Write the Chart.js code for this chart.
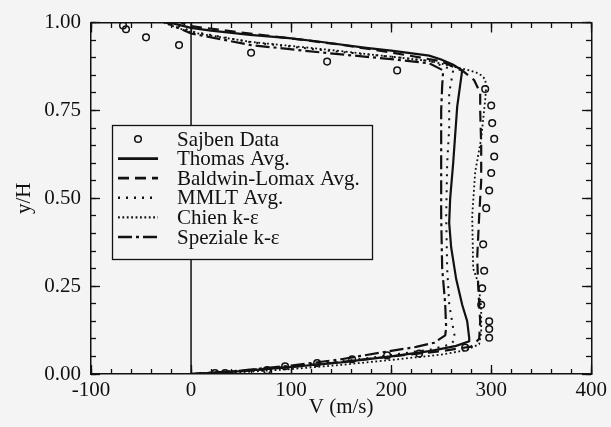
<!DOCTYPE html>
<html>
<head>
<meta charset="utf-8">
<script src="https://cdn.jsdelivr.net/npm/chart.js@4.4.0/dist/chart.umd.min.js"></script>
<style>
  html, body { margin: 0; padding: 0; background: #f4f4f4; }
  canvas { display: block; }
</style>
</head>
<body>
<canvas id="profileChart" width="611" height="427"></canvas>
<script>
// --- data: V (m/s) against y/H ---
const xTicks = [-100, 0, 100, 200, 300, 400];
const yTicks = [0, 0.25, 0.5, 0.75, 1];

const sajbenV = [-68, -65, -45, -12, 60, 136, 206,
  294, 300, 301, 303, 303, 300, 298, 295, 292, 293, 291, 290, 298, 298, 298,
  274, 228, 196, 161, 126, 94, 76, 34, 24];
const sajbenY = [0.992, 0.981, 0.958, 0.936, 0.914, 0.889, 0.864,
  0.811, 0.764, 0.714, 0.669, 0.619, 0.572, 0.522, 0.472, 0.369, 0.294, 0.244, 0.197, 0.150, 0.128, 0.103,
  0.075, 0.058, 0.053, 0.042, 0.031, 0.022, 0.011, 0.003, 0.003];

const thomasV = [0, 50, 100, 150, 200, 240, 265, 278, 278, 276, 271, 265, 260, 258, 259, 262, 266, 271,
  262, 250, 238, 200, 175, 125, 98, 59, 20, 0, -21];
const thomasY = [0, 0.008, 0.02, 0.033, 0.05, 0.066, 0.08, 0.093, 0.103, 0.15, 0.197, 0.27, 0.36, 0.43, 0.5, 0.6, 0.76, 0.864,
  0.88, 0.895, 0.906, 0.92, 0.928, 0.947, 0.956, 0.965, 0.977, 0.985, 1.0];

const baldwinV = [0, 50, 100, 150, 200, 250, 280, 288, 289, 287, 286, 288, 290, 290, 289, 289, 283, 272,
  250, 200, 150, 100, 50, 0, -10];
const baldwinY = [0, 0.008, 0.02, 0.034, 0.05, 0.065, 0.078, 0.1, 0.15, 0.25, 0.33, 0.45, 0.55, 0.65, 0.75, 0.8, 0.836, 0.862,
  0.89, 0.915, 0.937, 0.955, 0.972, 0.99, 1.0];

const mmltV = [0, 50, 100, 150, 200, 240, 260, 264, 262, 258, 256, 255, 256, 258, 258, 262,
  240, 200, 130, 60, 0, -20];
const mmltY = [0, 0.01, 0.022, 0.036, 0.054, 0.07, 0.085, 0.1, 0.13, 0.2, 0.3, 0.45, 0.6, 0.7, 0.8, 0.864,
  0.89, 0.903, 0.922, 0.944, 0.975, 1.0];

const chienV = [0, 50, 100, 150, 200, 250, 275, 288, 290, 290, 287, 282, 281, 284, 290, 294, 295, 294, 290, 285, 278,
  240, 200, 130, 60, 0, -28];
const chienY = [0, 0.005, 0.014, 0.026, 0.04, 0.055, 0.068, 0.085, 0.12, 0.19, 0.26, 0.3, 0.45, 0.575, 0.67, 0.78, 0.817, 0.839, 0.85, 0.858, 0.864,
  0.89, 0.903, 0.925, 0.945, 0.972, 1.0];

const spezialeV = [0, 50, 100, 150, 200, 225, 243, 254, 255, 254, 251, 250, 250, 250, 251, 252,
  238, 200, 130, 60, 0, -25];
const spezialeY = [0, 0.01, 0.024, 0.042, 0.066, 0.077, 0.089, 0.11, 0.13, 0.2, 0.3, 0.45, 0.6, 0.75, 0.82, 0.864,
  0.884, 0.896, 0.915, 0.936, 0.969, 1.0];

const zeroV = [0, 0];
const zeroY = [0, 1];

const ink = '#111';
const pageBg = '#f4f4f4';
const serif = '"Liberation Serif", "Times New Roman", serif';
const fontSize = 21;

function pts(xs, ys) {
  return xs.map((v, i) => ({ x: v, y: ys[i] }));
}

function lineSet(label, xs, ys, dash, width) {
  return {
    label: label,
    data: pts(xs, ys),
    showLine: true,
    borderColor: ink,
    borderWidth: width,
    borderDash: dash,
    pointRadius: 0,
    fill: false,
    tension: 0
  };
}

const datasets = [
  {
    label: 'Sajben Data',
    data: pts(sajbenV, sajbenY),
    showLine: false,
    pointStyle: 'circle',
    pointRadius: 3.3,
    pointBorderWidth: 1.5,
    pointBorderColor: ink,
    pointBackgroundColor: 'rgba(0,0,0,0)'
  },
  lineSet('Thomas Avg.', thomasV, thomasY, [], 2.2),
  lineSet('Baldwin-Lomax Avg.', baldwinV, baldwinY, [11, 6], 2.2),
  lineSet('MMLT Avg.', mmltV, mmltY, [2, 6], 2),
  lineSet('Chien k-\u03b5', chienV, chienY, [1.8, 2.6], 1.8),
  lineSet('Speziale k-\u03b5', spezialeV, spezialeY, [14, 4, 3, 4], 2.2),
  Object.assign(lineSet('', zeroV, zeroY, [], 1.5), { inLegend: false })
];

// --- legend box drawn inside the plot, like the original figure ---
const legendBox = {
  id: 'legendBox',
  afterDatasetsDraw(chart) {
    const ctx = chart.ctx;
    const left = 112, top = 125, w = 260, h = 134;
    ctx.save();
    ctx.fillStyle = pageBg;
    ctx.fillRect(left, top, w, h);
    ctx.strokeStyle = ink;
    ctx.lineWidth = 1.3;
    ctx.strokeRect(left + 0.5, top + 0.5, w, h);
    ctx.font = fontSize + 'px ' + serif;
    ctx.textBaseline = 'middle';
    ctx.textAlign = 'left';
    let row = 0;
    chart.data.datasets.forEach(ds => {
      if (ds.inLegend === false) return;
      const y = top + 14 + row * 19.6;
      if (ds.showLine === false) {
        ctx.beginPath();
        ctx.setLineDash([]);
        ctx.lineWidth = 1.5;
        ctx.arc(138, y, 3.3, 0, Math.PI * 2);
        ctx.stroke();
      } else {
        ctx.beginPath();
        ctx.setLineDash(ds.borderDash || []);
        ctx.lineWidth = ds.borderWidth + 0.5;
        ctx.moveTo(118, y);
        ctx.lineTo(158, y);
        ctx.stroke();
      }
      ctx.setLineDash([]);
      ctx.fillStyle = ink;
      ctx.fillText(ds.label, 177, y + 1);
      row++;
    });
    ctx.restore();
  }
};

// inward tick marks on all four sides
function tickAxis(axis, pos, step, len, showBorder) {
  const isX = axis === 'x';
  return {
    type: 'linear',
    axis: axis,
    position: pos,
    min: isX ? xTicks[0] : yTicks[0],
    max: isX ? xTicks[xTicks.length - 1] : yTicks[yTicks.length - 1],
    ticks: { display: false, stepSize: step },
    grid: { drawOnChartArea: false, drawTicks: true, tickLength: len, tickColor: ink, tickWidth: 1.3 },
    border: { display: showBorder, color: ink, width: 1.5 }
  };
}

const ctx = document.getElementById('profileChart');
new Chart(ctx, {
  type: 'scatter',
  data: { datasets: datasets },
  plugins: [legendBox],
  options: {
    responsive: false,
    animation: false,
    devicePixelRatio: 1,
    layout: { padding: { top: 14, right: 18, bottom: 0, left: 0 } },
    plugins: {
      legend: { display: false },
      tooltip: { enabled: false }
    },
    scales: {
      x: {
        type: 'linear',
        position: 'bottom',
        min: xTicks[0],
        max: xTicks[xTicks.length - 1],
        afterFit: s => { s.height = 53; },
        ticks: { stepSize: 100, padding: 4, maxRotation: 0, color: ink, font: { family: serif, size: fontSize } },
        grid: { drawOnChartArea: false, drawTicks: false },
        border: { display: true, color: ink, width: 1.5 },
        title: { display: true, text: 'V (m/s)', color: ink, font: { family: serif, size: fontSize }, padding: { top: 0, bottom: 7 } }
      },
      y: {
        type: 'linear',
        position: 'left',
        min: yTicks[0],
        max: yTicks[yTicks.length - 1],
        afterFit: s => { s.width = 91; },
        ticks: { stepSize: 0.25, padding: 10, color: ink, font: { family: serif, size: fontSize },
                 callback: v => Number(v).toFixed(2) },
        grid: { drawOnChartArea: false, drawTicks: false },
        border: { display: true, color: ink, width: 1.5 },
        title: { display: true, text: 'y/H', color: ink, font: { family: serif, size: fontSize }, padding: { top: 12, bottom: 0 } }
      },
      xMinB: tickAxis('x', { y: 0 }, 20, -5, false),
      xMajB: tickAxis('x', { y: 0 }, 100, -9, false),
      xMinT: tickAxis('x', { y: 1 }, 20, 5, false),
      xMajT: tickAxis('x', { y: 1 }, 100, 9, true),
      yMinL: tickAxis('y', { x: -100 }, 0.05, -5, false),
      yMajL: tickAxis('y', { x: -100 }, 0.25, -9, false),
      yMinR: tickAxis('y', { x: 400 }, 0.05, 5, false),
      yMajR: tickAxis('y', { x: 400 }, 0.25, 9, true)
    }
  }
});
</script>
</body>
</html>
